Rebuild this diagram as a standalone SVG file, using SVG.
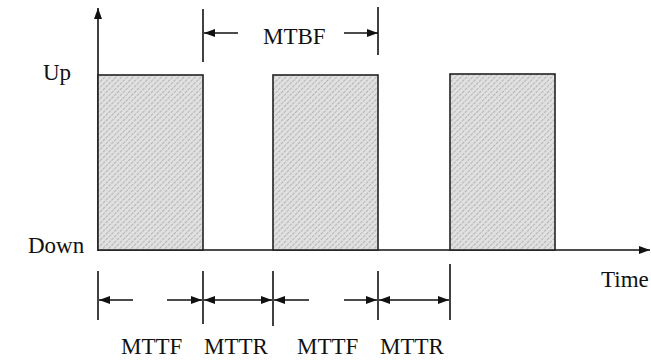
<svg xmlns="http://www.w3.org/2000/svg" width="651" height="361" viewBox="0 0 651 361">
  <style>
    .t { font-family: "Liberation Serif", "Times New Roman", serif; font-size: 23px; fill: #111; }
    .ln { stroke: #111; stroke-width: 1.6; fill: none; }
    .bar { fill: url(#hatch); stroke: #222; stroke-width: 1.6; }
  </style>
  <defs>
    <pattern id="hatch" width="4" height="4" patternUnits="userSpaceOnUse" patternTransform="rotate(45)">
      <rect width="4" height="4" fill="#e0e0e0"/>
      <line x1="0" y1="0" x2="0" y2="4" stroke="#9c9c9c" stroke-width="1.3" stroke-dasharray="3 1"/>
    </pattern>
    <marker id="ah" markerWidth="11" markerHeight="8" refX="11" refY="4" orient="auto-start-reverse" markerUnits="userSpaceOnUse">
      <path d="M0,0 L11,4 L0,8 z" fill="#111"/>
    </marker>
  </defs>

  <g id="axes">
    <line class="ln" x1="98" y1="251" x2="98" y2="8" marker-end="url(#ah)"/>
    <line class="ln" x1="98" y1="250" x2="650" y2="250" marker-end="url(#ah)"/>
  </g>

  <g id="up1"><rect class="bar" x="98" y="75" width="105" height="175"/></g>
  <g id="up2"><rect class="bar" x="273" y="75" width="105" height="175"/></g>
  <g id="up3"><rect class="bar" x="450" y="74" width="105" height="176"/></g>

  <g id="labels">
    <text class="t" x="43" y="80">Up</text>
    <text class="t" x="28" y="253">Down</text>
    <text class="t" x="601" y="287">Time</text>
    <text class="t" x="263" y="44">MTBF</text>
    <text class="t" x="121" y="354">MTTF</text>
    <text class="t" x="204" y="354">MTTR</text>
    <text class="t" x="297" y="354">MTTF</text>
    <text class="t" x="380" y="354">MTTR</text>
  </g>

  <g id="connectors">
    <line class="ln" x1="203" y1="9" x2="203" y2="62"/>
    <line class="ln" x1="378" y1="7" x2="378" y2="55"/>
    <line class="ln" x1="238" y1="33" x2="204" y2="33" marker-end="url(#ah)"/>
    <line class="ln" x1="344" y1="33" x2="378" y2="33" marker-end="url(#ah)"/>

    <line class="ln" x1="98" y1="271" x2="98" y2="320"/>
    <line class="ln" x1="203" y1="271" x2="203" y2="324"/>
    <line class="ln" x1="273" y1="271" x2="273" y2="326"/>
    <line class="ln" x1="378" y1="271" x2="378" y2="320"/>
    <line class="ln" x1="450" y1="264" x2="450" y2="320"/>

    <line class="ln" x1="133" y1="300" x2="99" y2="300" marker-end="url(#ah)"/>
    <line class="ln" x1="167" y1="300" x2="202" y2="300" marker-end="url(#ah)"/>
    <line class="ln" x1="204" y1="300" x2="272" y2="300" marker-start="url(#ah)" marker-end="url(#ah)"/>
    <line class="ln" x1="309" y1="300" x2="274" y2="300" marker-end="url(#ah)"/>
    <line class="ln" x1="344" y1="300" x2="377" y2="300" marker-end="url(#ah)"/>
    <line class="ln" x1="379" y1="300" x2="449" y2="300" marker-start="url(#ah)" marker-end="url(#ah)"/>
  </g>
</svg>
